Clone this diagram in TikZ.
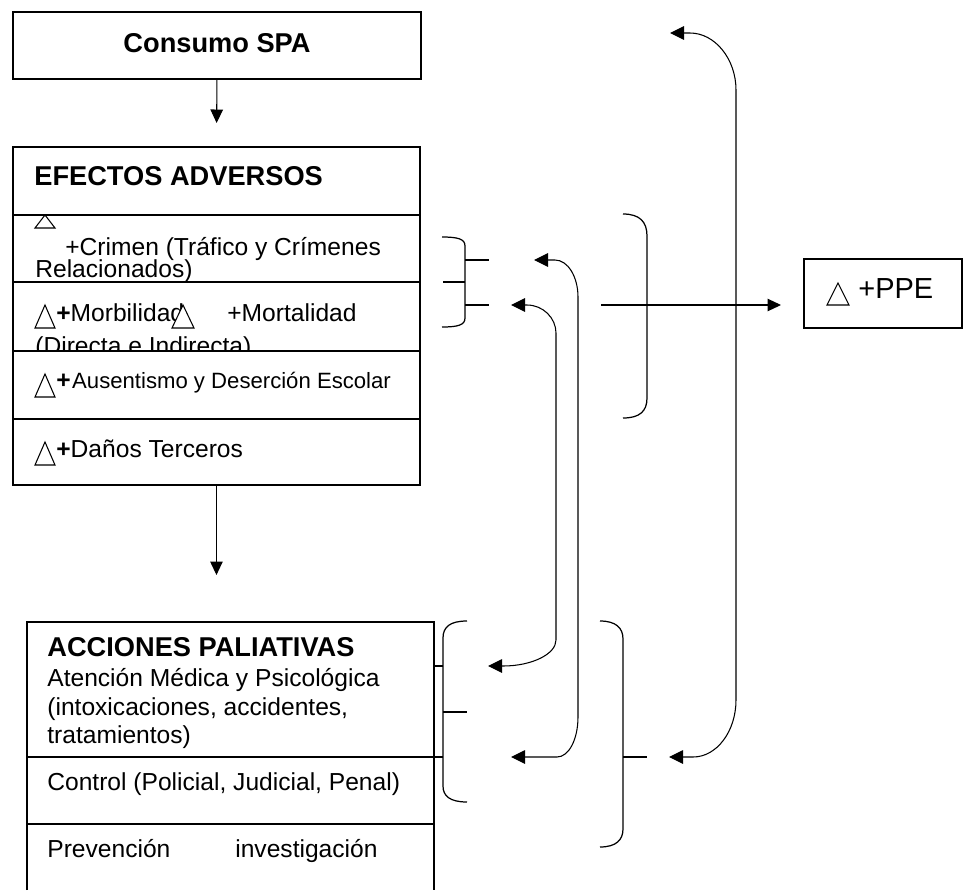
\documentclass[tikz,border=0pt]{standalone}
\usepackage{fontspec}
\setmainfont{Liberation Sans}
\usetikzlibrary{arrows.meta}

\tikzset{
  box/.style={draw, line width=0.7pt, inner sep=0pt, outer sep=0pt},
  lbl/.style={anchor=base west, inner sep=0pt, font=\fontsize{14}{16.4}\selectfont},
  head/.style={lbl, font=\fontsize{15.5}{18}\selectfont\bfseries},
  link/.style={line width=0.6pt},
  tip/.style={link, -{Triangle[length=0.27cm,width=0.25cm]}},
  both/.style={link, {Triangle[length=0.28cm,width=0.27cm]}-{Triangle[length=0.28cm,width=0.27cm]}},
  brace/.style={line width=0.7pt},
}
\newcommand{\delt}[4]{\draw[line width=0.6pt, fill=white] (#1,#2) -- ++(#3,0) -- ++({-#3/2},-#4) -- cycle;}

\begin{document}
\begin{tikzpicture}[x=0.02cm, y=-0.02cm]
\useasboundingbox (0,0) rectangle (964,890);

% boxes
\node[box, anchor=north west, minimum width=8.16cm, minimum height=1.34cm] (consumo) at (13,12) {};
\node[head, anchor=base] (consumotxt) at (217,52) {Consumo SPA};
\node[box, anchor=north west, minimum width=8.14cm, minimum height=6.76cm] (efectos) at (13,147) {};
\node[box, anchor=north west, minimum width=3.16cm, minimum height=1.38cm] (ppe) at (804,259) {};
\coordinate (accNW) at (27,622);
\coordinate (accNE) at (434,622);
\draw[box] (27,890) -- (accNW) -- (accNE) -- (434,890);

\draw[tip, shorten >=0.48cm] (consumo.south) -- (efectos.north);
\draw[tip, shorten >=0.94cm] (efectos.south) -- (efectos.south |- accNW);

\foreach \y in {215,282,351,419}
  \draw[box] (13,\y) -- (420,\y);

% efectos adversos
\node[head] (efhead) at (34,185) {EFECTOS ADVERSOS};
\delt{35}{228}{20}{13}
\node[lbl] (crimen) at (65,255) {+Crimen (Tráfico y Crímenes};
\node[lbl] (crimen2) at (35,277) {Relacionados)};
\delt{35}{328}{20}{23}
\node[lbl] (morb) at (56,321) {\textbf{+}Morbilidad};
\delt{172}{328}{22}{23}
\node[lbl] (mort) at (227,321) {+Mortalidad};
\begin{scope}
  \clip (13,282) rectangle (420,351);
  \node[lbl] (directa) at (35,354) {(Directa e Indirecta)};
\end{scope}
\delt{35}{397}{20}{23}
\node[lbl] (ausen) at (56,388) {\textbf{+}\hspace{0.03cm}\fontsize{12.6}{15}\selectfont Ausentismo y Deserción Escolar};
\delt{35}{465}{20}{23}
\node[lbl] (danos) at (56,457) {\textbf{+}Daños Terceros};

% acciones paliativas
\node[head] (acchead) at (47,656) {ACCIONES PALIATIVAS};
\node[lbl] (atencion) at (47,686) {Atención Médica y Psicológica};
\node[lbl] (intox) at (47,715) {(intoxicaciones, accidentes,};
\node[lbl] (trat) at (47,743) {tratamientos)};
\draw[box] (27,757) -- (443,757);
\node[lbl] (control) at (47,790) {Control (Policial, Judicial, Penal)};
\draw[box] (27,824) -- (434,824);
\node[lbl] (prev) at (47,857) {Prevención};
\node[lbl] (invest) at (235,857) {investigación};

% PPE
\delt{827}{305}{22}{22}
\node[lbl, font=\fontsize{16.5}{19}\selectfont] (ppetxt) at (858,298) {+PPE};

% braces
\draw[brace] (442,237) .. controls (458,237) and (465,239) .. (465,246) -- (465,318) .. controls (465,325) and (458,327) .. (442,327);
\draw[brace] (465,260) -- (489,260);
\draw[brace] (465,305) -- (489,305);
\draw[brace] (443,282) -- (465,282);
\draw[brace] (623,214) .. controls (640,214) and (647,222) .. (647,236) -- (647,398) .. controls (647,411) and (640,418) .. (623,418);
\draw[brace] (467,621) .. controls (450,621) and (443,627) .. (443,638) -- (443,786) .. controls (443,796) and (450,802) .. (467,802);
\draw[brace] (434,666) -- (443,666);
\draw[brace] (443,712) -- (467,712);
\draw[brace] (600,621) .. controls (616,621) and (623,628) .. (623,639) -- (623,829) .. controls (623,840) and (616,847) .. (600,847);
\draw[brace] (623,757) -- (647,757);

% feedback arrows
\coordinate (aTop) at (511,305);
\coordinate (aBot) at (488,666);
\draw[both] (aTop) -- (527,305) .. controls (543,305) and (556,318) .. (556,333) -- (556,640) .. controls (556,654) and (532,666) .. (503,666) -- (aBot);
\coordinate (bTop) at (534,260);
\coordinate (bBot) at (511,757);
\draw[both] (bTop) -- (555,260) .. controls (568,260) and (578,277) .. (578,297) -- (578,717) .. controls (578,739) and (569,757) .. (557,757) -- (bBot);
\coordinate (cTop) at (670,33);
\coordinate (cBot) at (669,757);
\draw[both] (cTop) -- (690,33) .. controls (715,33) and (736,59) .. (736,90) -- (736,700) .. controls (736,731) and (717,757) .. (693,757) -- (cBot);
\coordinate (ppeFrom) at (601,305);
\draw[tip, shorten >=0.46cm] (ppeFrom) -- (ppeFrom -| ppe.west);

\end{tikzpicture}
\end{document}
